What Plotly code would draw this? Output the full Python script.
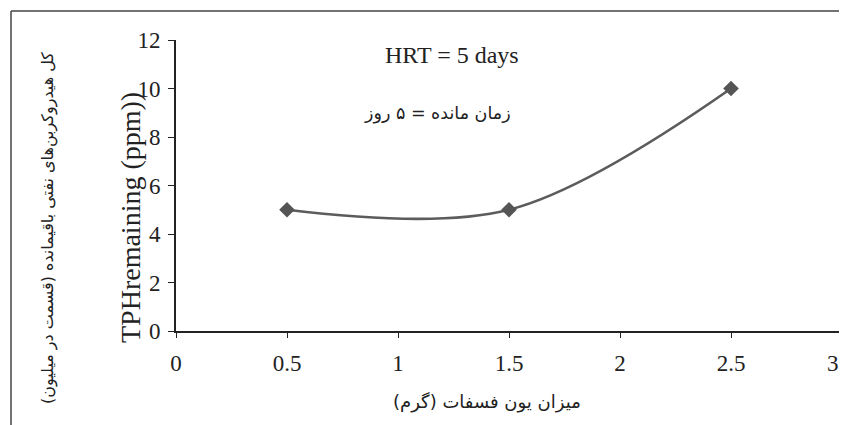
import plotly.graph_objects as go

x_vals = [0.5, 1.5, 2.5]
y_vals = [5, 5, 10]
x_ticks = [0, 0.5, 1, 1.5, 2, 2.5, 3]
x_tick_labels = ["0", "0.5", "1", "1.5", "2", "2.5", ""]
last_x_label = "3"
y_ticks = [0, 2, 4, 6, 8, 10, 12]

# page body has an 8px margin; work in reference pixel coords and shift
O = 8
W, H = 847 - O, 425 - O
L, R, T, B = 176 - O, 847 - 842, 40 - O, 425 - 331
pw = W - L - R
ph = H - T - B

def px(xp):
    return (xp - O - L) / pw

def py(yp):
    return (H - B - (yp - O)) / ph

serif = "Liberation Serif, Times New Roman, serif"
arab = "DejaVu Sans, Noto Sans, sans-serif"

fig = go.Figure()
fig.add_trace(go.Scatter(
    x=x_vals, y=y_vals, mode="lines+markers",
    line=dict(shape="spline", smoothing=1.0, color="#5c5c5c", width=2.7),
    marker=dict(symbol="diamond", size=12, color="#555555"),
    showlegend=False, hoverinfo="skip", cliponaxis=False))

fig.update_layout(
    width=W, height=H,
    margin=dict(l=L, r=R, t=T, b=B, autoexpand=False),
    paper_bgcolor="white", plot_bgcolor="white",
    xaxis=dict(range=[0, 3], tickvals=x_ticks, ticktext=x_tick_labels,
               automargin=False,
               showgrid=False, zeroline=False, showline=True, linecolor="#222222",
               linewidth=2, ticks="outside", ticklen=5, tickcolor="#222222",
               tickfont=dict(family=serif, size=23, color="#222222"),
               ticklabelstandoff=5),
    yaxis=dict(range=[0, 12], tickvals=y_ticks, showgrid=False, zeroline=False,
               automargin=False,
               showline=True, linecolor="#222222", linewidth=2, ticks="outside",
               ticklen=6, tickcolor="#222222", ticklabelstandoff=3,
               tickfont=dict(family=serif, size=23, color="#222222")),
)

# last x tick label, nudged inside the page as in the original
fig.add_annotation(xref="x", yref="y", x=x_ticks[-1], y=0, xshift=-9, yshift=-32,
                   xanchor="center", yanchor="middle", text=last_x_label,
                   showarrow=False, font=dict(family=serif, size=23, color="#222222"))

# outer frame (top and left)
fig.add_shape(type="line", xref="paper", yref="paper",
              x0=px(11), x1=px(847), y0=py(11), y1=py(11),
              line=dict(color="#444444", width=1.5))
fig.add_shape(type="line", xref="paper", yref="paper",
              x0=px(11), x1=px(11), y0=py(11), y1=py(425),
              line=dict(color="#444444", width=1.5))

def note(x, y, text, font, angle=0):
    fig.add_annotation(xref="paper", yref="paper", x=px(x), y=py(y),
                       xanchor="center", yanchor="middle",
                       text=text, showarrow=False, textangle=angle, font=font)

note(452, 55, "HRT = 5 days", dict(family=serif, size=24, color="#222222"))
note(437, 113, "زمان مانده = ۵ روز", dict(family=arab, size=17.5, color="#222222"))
note(130, 218, "TPHremaining (ppm))", dict(family=serif, size=28, color="#222222"), -90)
note(48, 228, "کل هیدروکربن‌های نفتی باقیمانده (قسمت در میلیون)",
     dict(family=arab, size=16, color="#222222"), -90)
note(487, 402, "میزان یون فسفات (گرم)", dict(family=arab, size=18, color="#222222"))

fig.write_html("out.html")
